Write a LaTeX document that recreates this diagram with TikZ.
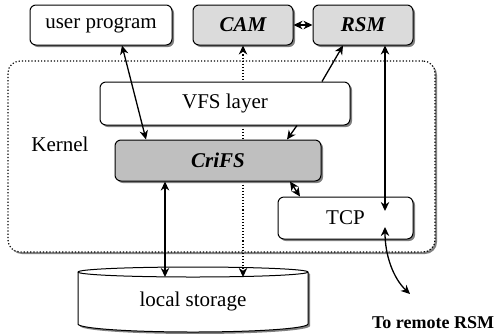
\documentclass[tikz,border=0pt]{standalone}
\usepackage{fontspec}
\setmainfont{Liberation Serif}
\usetikzlibrary{shadows,arrows.meta,calc}
\begin{document}
\begin{tikzpicture}[x=0.5pt,y=-0.5pt,
  font=\fontsize{10.5}{12}\selectfont,
  shad/.style={drop shadow={shadow xshift=1pt,shadow yshift=-1pt,fill=black!50,opacity=1}},
  box/.style={draw, rounded corners=3pt, line width=0.5pt, fill=white, shad, inner sep=0pt},
  arr/.style={line width=0.65pt, -{Stealth[length=4.5pt,width=4.2pt,inset=1.4pt]}},
  darr/.style={line width=0.65pt, {Stealth[length=4.5pt,width=4.2pt,inset=1.4pt]}-{Stealth[length=4.5pt,width=4.2pt,inset=1.4pt]}},
  dotarr/.style={densely dotted, line width=0.55pt, {Stealth[length=4.5pt,width=4.2pt,inset=1.4pt]}-{Stealth[length=4.5pt,width=4.2pt,inset=1.4pt]}},
  bi/.style={font=\fontsize{10.5}{12}\selectfont\bfseries\itshape}
]
\useasboundingbox (0,0) rectangle (497,333);
% top row
\node[box, minimum width=71pt, minimum height=20pt] (user) at (101,25) {user program};
\node[box, fill=black!14, minimum width=50pt, minimum height=20pt, bi] (cam) at (243,25) {CAM};
\node[box, fill=black!14, minimum width=50pt, minimum height=20pt, bi] (rsm) at (363,25) {RSM};
% kernel frame
\node[draw, densely dotted, line width=0.6pt, rounded corners=6pt, fill=white, shad,
      minimum width=213.5pt, minimum height=95.5pt, inner sep=0pt] (kernel) at (221.5,156.5) {};
\node (kern) at (60,144) {Kernel};
% storage cylinder
\path[draw, fill=white, line width=0.5pt, shad] (78,272) -- (78,324)
  arc[start angle=180, end angle=0, x radius=115, y radius=8] -- (308,272)
  arc[start angle=0, end angle=-180, x radius=115, y radius=5] -- cycle;
\draw[line width=0.5pt] (78,272) arc[start angle=180, end angle=0, x radius=115, y radius=5];
\node (stor) at (193,301) {local storage};
\coordinate (stA) at (165,277);
\coordinate (stB) at (243,277);
% dotted CAM link (behind boxes)
\draw[dotarr] (cam.south) -- (stB);
% kernel boxes
\node[box, minimum width=125pt, minimum height=21.5pt] (vfs) at (225,103.5) {VFS layer};
\node[box, fill=black!25, minimum width=103pt, minimum height=20.5pt, bi] (crifs) at (218,160.5) {CriFS};
\node[box, minimum width=67.5pt, minimum height=21pt] (tcp) at (345.5,218) {TCP};
\node[font=\fontsize{9}{11}\selectfont\bfseries] (remote) at (433,323) {To remote RSM};
% connectors
\coordinate (tcpin) at (385,211);
\coordinate (tcpout) at (385,227);
\coordinate (rtip) at (410,294);
\draw[darr] ([xshift=10.5pt]user.south) -- ([xshift=-36pt]crifs.north);
\draw[darr] (cam.east) -- (rsm.west);
\draw[arr] ([xshift=48.5pt]vfs.north) -- ([xshift=-10pt]rsm.south);
\draw[arr] ([xshift=36pt]vfs.south) -- ([xshift=34.5pt]crifs.north);
\draw[darr] ([xshift=36pt]crifs.south) -- ([xshift=-22.75pt]tcp.north);
\draw[darr] ([xshift=11pt]rsm.south) -- (tcpin);
\draw[darr] (tcpout) .. controls (385,255) and (393,278) .. (rtip);
\draw[darr] ([xshift=-26.5pt]crifs.south) -- (stA);
\end{tikzpicture}
\end{document}
